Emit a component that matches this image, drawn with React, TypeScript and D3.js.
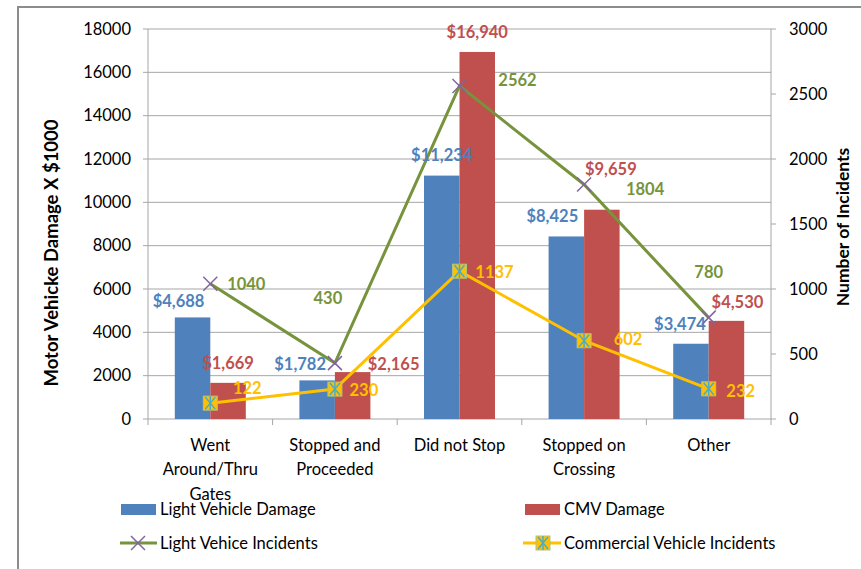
import React from 'react';
import * as d3 from 'd3';

// chart data
const categories = ['Went Around/Thru Gates', 'Stopped and Proceeded', 'Did not Stop', 'Stopped on Crossing', 'Other'];
const categoryLines = [['Went', 'Around/Thru', 'Gates'], ['Stopped and', 'Proceeded'], ['Did not Stop'], ['Stopped on', 'Crossing'], ['Other']];
const lightDamage = [4688, 1782, 11234, 8425, 3474];
const cmvDamage = [1669, 2165, 16940, 9659, 4530];
const lightIncidents = [1040, 430, 2562, 1804, 780];
const commercialIncidents = [122, 230, 1137, 602, 232];
const leftTicks = [0, 2000, 4000, 6000, 8000, 10000, 12000, 14000, 16000, 18000];
const rightTicks = [0, 500, 1000, 1500, 2000, 2500, 3000];

// hand-placed label nudges (px, relative to the mark), as in the original
const lightDamageNudge = [[-14, -16], [-17, -16], [0, -20], [-14, -20], [-11, -20]];
const cmvDamageNudge = [[0, -20], [41, -8], [0, -20], [9, -40], [11, -19]];
const lightIncNudge = [[36, 0], [-7, -65], [58, -6], [61, 5], [0, -45]];
const commIncNudge = [[37, -15], [29, 1], [35, 1], [44, -2], [32, 2]];

const BLUE = '#4F81BD';
const RED = '#C0504D';
const GREEN = '#77933C';
const PURPLE = '#8064A2';
const YELLOW = '#FFC000';
const TEAL = '#4BACC6';
const FONT = 'Lato, "Open Sans", sans-serif';

const W = 861, H = 569;
const plot = { left: 148, right: 771, top: 29, bottom: 419 };

const money = (v: number) => '$' + d3.format(',')(v);

const XMark = ({ x, y }: { x: number; y: number }) => (
  <g stroke={PURPLE} strokeWidth={1.5}>
    <line x1={x - 7} y1={y - 7} x2={x + 7} y2={y + 7} />
    <line x1={x - 7} y1={y + 7} x2={x + 7} y2={y - 7} />
  </g>
);

const StarSquare = ({ x, y }: { x: number; y: number }) => (
  <g>
    <rect x={x - 7} y={y - 7} width={14} height={14} fill={YELLOW} stroke="#B4C27A" strokeWidth={1} />
    <g stroke={TEAL} strokeWidth={1.5}>
      <line x1={x - 5} y1={y - 6} x2={x + 5} y2={y + 6} />
      <line x1={x - 5} y1={y + 6} x2={x + 5} y2={y - 6} />
      <line x1={x} y1={y - 7} x2={x} y2={y + 7} />
    </g>
  </g>
);

export default function App() {
  const x = d3.scaleBand<string>().domain(categories).range([plot.left, plot.right]).padding(0);
  const x1 = d3.scaleBand<string>().domain(['light', 'cmv']).range([0, x.bandwidth()]).paddingInner(0).paddingOuter(0.755);
  const y = d3.scaleLinear().domain([0, 18000]).range([plot.bottom, plot.top]);
  const y2 = d3.scaleLinear().domain([0, 3000]).range([plot.bottom, plot.top]);
  const cx = (i: number) => (x(categories[i]) as number) + x.bandwidth() / 2;

  const line = d3.line<number>().x((_, i) => cx(i)).y(d => y2(d));

  const bw = x1.bandwidth();
  const boundaries = [...categories.map(c => x(c) as number), plot.right];

  return (
    <svg width={W} height={H} style={{ position: 'absolute', left: 0, top: 0, background: '#fff' }} fontFamily={FONT}>
      {/* frame */}
      <path d={`M18,${H} L18,7 L${W},7`} fill="none" stroke="#8C8C8C" strokeWidth={2} />

      {/* gridlines */}
      {leftTicks.map(t => (
        <line key={'g' + t} x1={plot.left - 5} x2={plot.right} y1={y(t)} y2={y(t)} stroke="#A6A6A6" strokeWidth={1} />
      ))}
      {rightTicks.map(t => (
        <line key={'r' + t} x1={plot.right} x2={plot.right + 5} y1={y2(t)} y2={y2(t)} stroke="#A6A6A6" strokeWidth={1} />
      ))}
      <line x1={plot.left} x2={plot.left} y1={plot.top} y2={plot.bottom} stroke="#A6A6A6" />
      <line x1={plot.right} x2={plot.right} y1={plot.top} y2={plot.bottom} stroke="#A6A6A6" />
      {boundaries.map((b, i) => (
        <line key={'xt' + i} x1={b} x2={b} y1={plot.bottom} y2={plot.bottom + 6} stroke="#A6A6A6" />
      ))}

      {/* tick labels */}
      {leftTicks.map(t => (
        <text key={'lt' + t} x={131} y={y(t)} dy="0.35em" textAnchor="end" fontSize={16.5} fill="#000">{t}</text>
      ))}
      {rightTicks.map(t => (
        <text key={'rt' + t} x={789} y={y2(t)} dy="0.35em" textAnchor="start" fontSize={16.5} fill="#000">{t}</text>
      ))}

      {/* axis titles */}
      <text transform="translate(52,253) rotate(-90)" textAnchor="middle" dy="0.35em" fontSize={18.5} fontWeight="bold">Motor Vehicke Damage X $1000</text>
      <text transform="translate(843,227) rotate(-90)" textAnchor="middle" dy="0.35em" fontSize={17.5} fontWeight="bold">Number of Incidents</text>

      {/* bars */}
      {categories.map((c, i) => (
        <g key={'b' + c}>
          <rect x={(x(c) as number) + (x1('light') as number)} y={y(lightDamage[i])} width={bw} height={plot.bottom - y(lightDamage[i])} fill={BLUE} />
          <rect x={(x(c) as number) + (x1('cmv') as number)} y={y(cmvDamage[i])} width={bw} height={plot.bottom - y(cmvDamage[i])} fill={RED} />
        </g>
      ))}

      {/* lines */}
      <path d={line(lightIncidents) || ''} fill="none" stroke={GREEN} strokeWidth={3} />
      <path d={line(commercialIncidents) || ''} fill="none" stroke={YELLOW} strokeWidth={3} />
      {lightIncidents.map((v, i) => <XMark key={'xm' + i} x={cx(i)} y={y2(v)} />)}
      {commercialIncidents.map((v, i) => <StarSquare key={'sm' + i} x={cx(i)} y={y2(v)} />)}

      {/* data labels */}
      <g fontSize={16.5} fontWeight="bold" textAnchor="middle">
        {lightDamage.map((v, i) => (
          <text key={'ll' + i} x={(x(categories[i]) as number) + (x1('light') as number) + bw / 2 + lightDamageNudge[i][0]} y={y(v) + lightDamageNudge[i][1]} dy="0.35em" fill={BLUE}>{money(v)}</text>
        ))}
        {cmvDamage.map((v, i) => (
          <text key={'cl' + i} x={(x(categories[i]) as number) + (x1('cmv') as number) + bw / 2 + cmvDamageNudge[i][0]} y={y(v) + cmvDamageNudge[i][1]} dy="0.35em" fill={RED}>{money(v)}</text>
        ))}
        {lightIncidents.map((v, i) => (
          <text key={'li' + i} x={cx(i) + lightIncNudge[i][0]} y={y2(v) + lightIncNudge[i][1]} dy="0.35em" fill={GREEN}>{v}</text>
        ))}
        {commercialIncidents.map((v, i) => (
          <text key={'ci' + i} x={cx(i) + commIncNudge[i][0]} y={y2(v) + commIncNudge[i][1]} dy="0.35em" fill={YELLOW}>{v}</text>
        ))}
      </g>

      {/* category labels */}
      {categoryLines.map((lines, i) => (
        <text key={'cat' + i} x={cx(i)} y={445} textAnchor="middle" fontSize={16.5} fill="#000">
          {lines.map((l, j) => (
            <tspan key={j} x={cx(i)} y={445 + j * 24.5} dy="0.35em">{l}</tspan>
          ))}
        </text>
      ))}

      {/* legend */}
      <g fontSize={16.5} fill="#000">
        <rect x={121} y={504} width={35} height={11} fill={BLUE} />
        <text x={160} y={509} dy="0.35em">Light Vehicle Damage</text>
        <rect x={525} y={504} width={35} height={11} fill={RED} />
        <text x={564} y={509} dy="0.35em">CMV Damage</text>
        <line x1={120} x2={157} y1={543} y2={543} stroke={GREEN} strokeWidth={3} />
        <XMark x={138} y={543} />
        <text x={160} y={543} dy="0.35em">Light Vehice Incidents</text>
        <line x1={523} x2={561} y1={543} y2={543} stroke={YELLOW} strokeWidth={3} />
        <StarSquare x={543} y={543} />
        <text x={564} y={543} dy="0.35em">Commercial Vehicle Incidents</text>
      </g>
    </svg>
  );
}
